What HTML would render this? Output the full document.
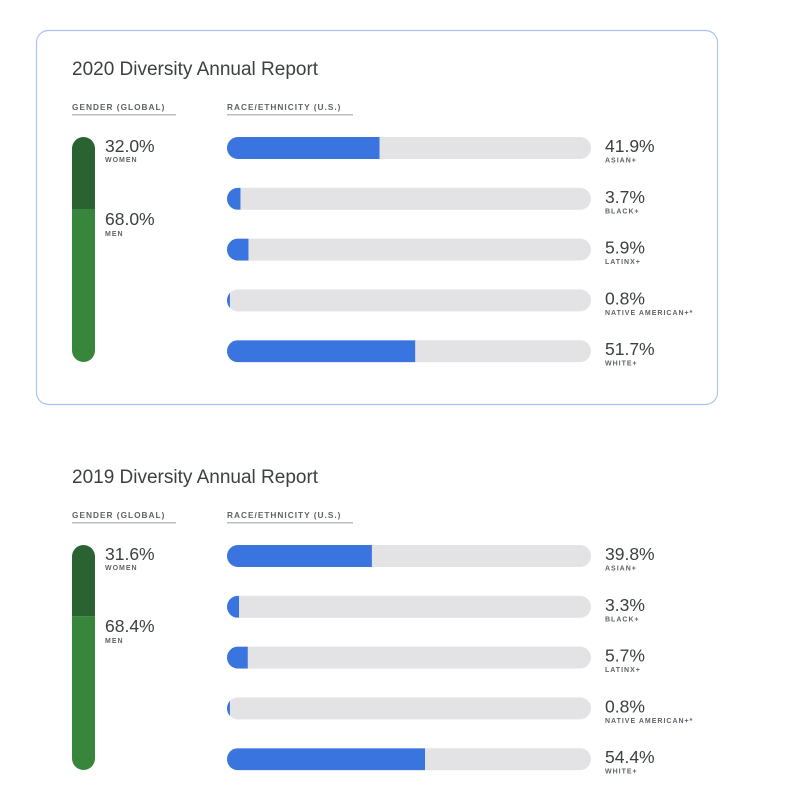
<!DOCTYPE html>
<html><head><meta charset="utf-8"><style>
html,body{margin:0;padding:0;background:#fff;}
svg{display:block;font-family:"Liberation Sans",Arial,sans-serif;}
</style></head><body>
<svg id="c" width="788" height="800" viewBox="0 0 788 800">
<rect x="36.5" y="30.5" width="681" height="374" rx="12" fill="none" stroke="#a9c5f2" stroke-width="1.2"/>
</svg>
<script>
const years = ["2020", "2019"];
const women = [32.0, 31.6];
const men = [68.0, 68.4];
const raceCats = ["ASIAN+", "BLACK+", "LATINX+", "NATIVE AMERICAN+*", "WHITE+"];
const race2020 = [41.9, 3.7, 5.9, 0.8, 51.7];
const race2019 = [39.8, 3.3, 5.7, 0.8, 54.4];
const raceSeries = [race2020, race2019];

const NS = "http://www.w3.org/2000/svg";
const svg = document.getElementById("c");
function mk(tag, attrs, parent, text) {
  const e = document.createElementNS(NS, tag);
  for (const k in attrs) e.setAttribute(k, attrs[k]);
  if (text !== undefined) e.textContent = text;
  (parent || svg).appendChild(e);
  return e;
}
const trackX = 227, trackW = 364, barH = 22;
const xScale = v => v / 100 * trackW;
const gTop = 137, gH = 225, gX = 72, gW = 23;
const gScale = v => v / 100 * gH;

years.forEach((yr, i) => {
  const oy = i * 408;
  const g = mk("g", {});
  
  
  const t = mk("text", {x: 72, y: 75 + oy, "font-size": 19, fill: "#3c4043"}, g, yr + " Diversity Annual Report");
  
  
  const h1 = mk("text", {x: 72, y: 110 + oy, "font-size": 8.3, fill: "#5f6368", "letter-spacing": 1, "font-weight": "bold"}, g, "GENDER (GLOBAL)");
  
  
  mk("rect", {x: 72, y: 114 + oy, width: 104, height: 1.5, fill: "#bdbdbd"}, g);
  const h2 = mk("text", {x: 227, y: 110 + oy, "font-size": 8.3, fill: "#5f6368", "letter-spacing": 1, "font-weight": "bold"}, g, "RACE/ETHNICITY (U.S.)");
  
  
  mk("rect", {x: 227, y: 114 + oy, width: 126, height: 1.5, fill: "#bdbdbd"}, g);

  const cid = "gclip" + i;
  const cp = mk("clipPath", {id: cid}, g);
  mk("rect", {x: gX, y: gTop + oy, width: gW, height: gH, rx: 11.5}, cp);
  const wH = gScale(women[i]);
  const wr = mk("rect", {x: gX, y: gTop + oy, width: gW, height: wH, fill: "#2a6331", "clip-path": "url(#" + cid + ")"}, g);
  
  
  const mr = mk("rect", {x: gX, y: gTop + oy + wH, width: gW, height: gScale(men[i]), fill: "#38853c", "clip-path": "url(#" + cid + ")"}, g);
  
  
  const wl = mk("text", {x: 105, y: gTop + oy + 15, "font-size": 17.5, fill: "#3c4043"}, g, women[i].toFixed(1) + "%");
  
  
  mk("text", {x: 105, y: gTop + oy + 25, "font-size": 7, fill: "#5f6368", "letter-spacing": 1, "font-weight": "bold"}, g, "WOMEN");
  const ml = mk("text", {x: 105, y: gTop + oy + wH + 16, "font-size": 17.5, fill: "#3c4043"}, g, men[i].toFixed(1) + "%");
  
  
  mk("text", {x: 105, y: gTop + oy + wH + 27, "font-size": 7, fill: "#5f6368", "letter-spacing": 1, "font-weight": "bold"}, g, "MEN");

  raceCats.forEach((cat, j) => {
    const v = raceSeries[i][j];
    const y = 137 + j * 50.8 + oy;
    const id = "rclip" + i + "_" + j;
    const c = mk("clipPath", {id: id}, g);
    mk("rect", {x: trackX, y: y, width: trackW, height: barH, rx: 11}, c);
    const tr = mk("rect", {x: trackX, y: y, width: trackW, height: barH, rx: 11, fill: "#e3e3e6"}, g);
    
    
    const b = mk("rect", {x: trackX, y: y, width: xScale(v), height: barH, fill: "#3a75df", "clip-path": "url(#" + id + ")"}, g);
    
    
    const vl = mk("text", {x: 605, y: y + 15, "font-size": 17.5, fill: "#3c4043"}, g, v.toFixed(1) + "%");
    
    
    const cl = mk("text", {x: 605, y: y + 25.5, "font-size": 7, fill: "#5f6368", "letter-spacing": 1, "font-weight": "bold"}, g, cat);
    
    
  });
});
</script>
</body></html>
